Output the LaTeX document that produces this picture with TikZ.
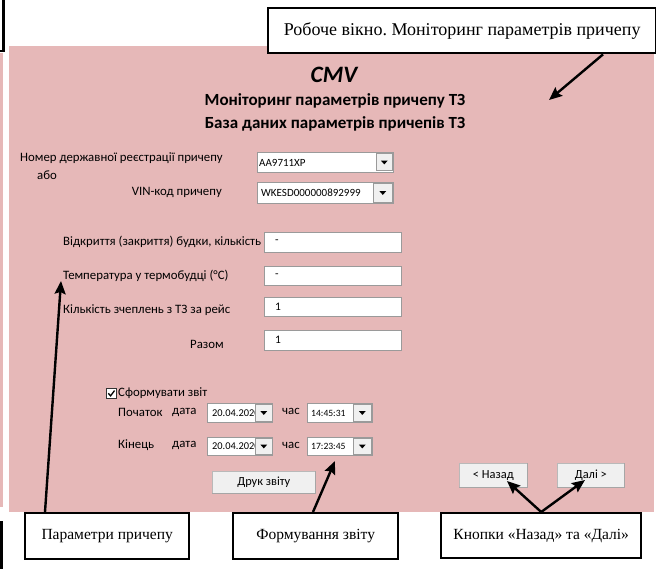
\documentclass[tikz,border=0pt]{standalone}
\usepackage{fontspec}
\setmainfont{Liberation Serif}
\newfontfamily\uifont{Carlito}
\usetikzlibrary{arrows.meta}
\definecolor{panel}{HTML}{E6B8B8}
\definecolor{btnface}{HTML}{F0F0F0}
\definecolor{frameline}{HTML}{9A9A9A}
\frenchspacing
\tikzset{
  callout/.style={draw=black, line width=2.4pt, fill=white, inner sep=0pt,
    font=\fontsize{15.5}{18}\selectfont},
  pointer/.style={draw=black, line width=2.4pt,
    -{Stealth[length=13pt,width=11pt,inset=2pt]}},
  uilabel/.style={inner sep=0pt, anchor=west, font=\uifont\fontsize{12.8}{15}\selectfont},
  uivalue/.style={inner sep=0pt, anchor=west, font=\uifont\fontsize{11.5}{13}\selectfont},
  uismall/.style={inner sep=0pt, anchor=west, font=\uifont\fontsize{11}{13}\selectfont},
  uitiny/.style={inner sep=0pt, anchor=west, font=\uifont\fontsize{9.6}{11}\selectfont},
  uidate/.style={inner sep=0pt, anchor=west, font=\uifont\fontsize{10.4}{12}\selectfont},
  field/.style={draw=frameline, line width=0.9pt, fill=white, inner sep=0pt, anchor=north west},
  dropbtn/.style={draw=frameline, line width=0.6pt, fill=btnface, inner sep=0pt, anchor=north west},
  pushbtn/.style={draw=gray!55, line width=0.6pt, fill=btnface, inner sep=0pt, anchor=north west,
    font=\uifont\fontsize{12.4}{14}\selectfont},
  btnshade/.style={draw=gray!70, line width=1.2pt}
}
\newcommand{\droparrow}[1]{%
  \fill[black] ([xshift=-3.4pt,yshift=1.7pt]#1.center) -- ([xshift=3.4pt,yshift=1.7pt]#1.center)
    -- ([yshift=-2.1pt]#1.center) -- cycle;}
\begin{document}
\begin{tikzpicture}[x=1pt,y=-1pt]
\useasboundingbox (0,0) rectangle (656,569);

% form background
\fill[panel] (9,46) rectangle (654,512);
\fill[panel] (0,53) rectangle (3,507);

% frames of neighbouring callouts at the left edge
\draw[line width=2.4pt] (-40,-10) rectangle (3.5,51);
\draw[line width=2.4pt] (-40,522) rectangle (1.5,600);

% headings
\node[inner sep=0pt, font=\uifont\bfseries\itshape\fontsize{23.5}{26}\selectfont] (cmv) at (334,75) {CMV};
\node[inner sep=0pt, font=\uifont\bfseries\fontsize{17}{19}\selectfont] (head1) at (335,101) {Моніторинг параметрів причепу ТЗ};
\node[inner sep=0pt, font=\uifont\bfseries\fontsize{17}{19}\selectfont] (head2) at (335,124) {База даних параметрів причепів ТЗ};

% trailer identification
\node[uilabel] (lnum) at (20,158) {Номер державної реєстрації причепу};
\node[uilabel] (lor) at (37,175) {або};
\node[uilabel, anchor=east] (lvin) at (222,192) {VIN-код причепу};

\node[field, minimum width=136pt, minimum height=20pt] (cb1) at (257,152) {};
\node[uismall] (cb1t) at (259,162.5) {AA9711XP};
\node[dropbtn, minimum width=16pt, minimum height=17pt] (cb1b) at (376,153.5) {};
\droparrow{cb1b}
\node[field, minimum width=136pt, minimum height=21pt] (cb2) at (257,182) {};
\node[uismall] (cb2t) at (261,193) {WKESD000000892999};
\node[dropbtn, minimum width=19pt, minimum height=19pt] (cb2b) at (373,183) {};
\droparrow{cb2b}

% trailer parameters
\node[uilabel] (l1) at (63,242) {Відкриття (закриття) будки, кількість};
\node[field, minimum width=137pt, minimum height=20pt] (f1) at (264,232) {};
\node[uivalue] (f1t) at (275,242) {-};
\node[uilabel] (l2) at (63,276) {Температура у термобудці (°C)};
\node[field, minimum width=137pt, minimum height=19pt] (f2) at (264,266) {};
\node[uivalue] (f2t) at (275,275.5) {-};
\node[uilabel] (l3) at (63,310) {Кількість зчеплень з ТЗ за рейс};
\node[field, minimum width=137pt, minimum height=19pt] (f3) at (264,297) {};
\node[uivalue] (f3t) at (275,306.5) {1};
\node[uilabel] (l4) at (190,344) {Разом};
\node[field, minimum width=137pt, minimum height=20pt] (f4) at (264,330) {};
\node[uivalue] (f4t) at (275,340) {1};

% report block
\node[draw=black!80, line width=0.7pt, fill=white, minimum size=10pt, inner sep=0pt, anchor=north west] (chk) at (106,388) {};
\draw[line width=1.3pt] ([xshift=-3pt,yshift=0pt]chk.center) -- ([xshift=-0.8pt,yshift=-2.5pt]chk.center) -- ([xshift=3.2pt,yshift=2.8pt]chk.center);
\node[uilabel] (lrep) at (118,393) {Сформувати звіт};

\node[uilabel] (lstart) at (118,412) {Початок};
\node[uilabel] (ldate1) at (172,412) {дата};
\node[field, minimum width=65pt, minimum height=19pt] (d1) at (207,403) {};
\node[uidate] (d1t) at (212,413) {20.04.2020};
\node[dropbtn, minimum width=17pt, minimum height=17pt] (d1b) at (255,404) {};
\droparrow{d1b}
\node[uilabel] (ltime1) at (282,411) {час};
\node[field, minimum width=65pt, minimum height=19pt] (t1) at (307,403) {};
\node[uitiny] (t1t) at (311,413) {14:45:31};
\node[dropbtn, minimum width=18pt, minimum height=17pt] (t1b) at (353,404) {};
\droparrow{t1b}

\node[uilabel] (lend) at (118,445) {Кінець};
\node[uilabel] (ldate2) at (172,445) {дата};
\node[field, minimum width=65pt, minimum height=18pt] (d2) at (207,437) {};
\node[uidate] (d2t) at (212,446) {20.04.2020};
\node[dropbtn, minimum width=17pt, minimum height=16pt] (d2b) at (255,438) {};
\droparrow{d2b}
\node[uilabel] (ltime2) at (282,445) {час};
\node[field, minimum width=65pt, minimum height=18pt] (t2) at (307,437) {};
\node[uitiny] (t2t) at (311,446) {17:23:45};
\node[dropbtn, minimum width=18pt, minimum height=16pt] (t2b) at (353,438) {};
\droparrow{t2b}

% push buttons
\node[pushbtn, minimum width=103pt, minimum height=22pt] (print) at (212,471) {Друк звіту};
\draw[btnshade] (print.north east) -- (print.south east) -- (print.south west);
\node[pushbtn, minimum width=68pt, minimum height=24pt] (back) at (459,463) {< Назад};
\draw[btnshade] (back.north east) -- (back.south east) -- (back.south west);
\node[pushbtn, minimum width=67pt, minimum height=24pt] (next) at (557,463) {Далі >};
\draw[btnshade] (next.north east) -- (next.south east) -- (next.south west);

% callouts
\node[callout, minimum width=388pt, minimum height=45pt, anchor=north west,
  font=\fontsize{18}{21}\selectfont] (work) at (267,7)
  {Робоче вікно. Моніторинг параметрів причепу};
\node[callout, minimum width=164pt, minimum height=46pt, anchor=north west] (params) at (24,512)
  {Параметри причепу};
\node[callout, minimum width=165pt, minimum height=46pt, anchor=north west] (report) at (232,512)
  {Формування звіту};
\node[callout, minimum width=200pt, minimum height=45pt, anchor=north west] (navbtn) at (440,512)
  {Кнопки «Назад» та «Далі»};

% pointers
\coordinate (workTip) at (549,100);
\coordinate (paramsTip) at (61,281);
\coordinate (reportTip) at (335,461);
\coordinate (backTip) at (507,481);
\coordinate (nextTip) at (585,480);
\draw[pointer] ([xshift=336pt]work.south west) -- (workTip);
\draw[pointer] ([xshift=21pt]params.north west) -- (paramsTip);
\draw[pointer] ([xshift=81pt]report.north west) -- (reportTip);
\draw[pointer] (navbtn.north) -- (backTip);
\draw[pointer] (navbtn.north) -- (nextTip);
\end{tikzpicture}
\end{document}
